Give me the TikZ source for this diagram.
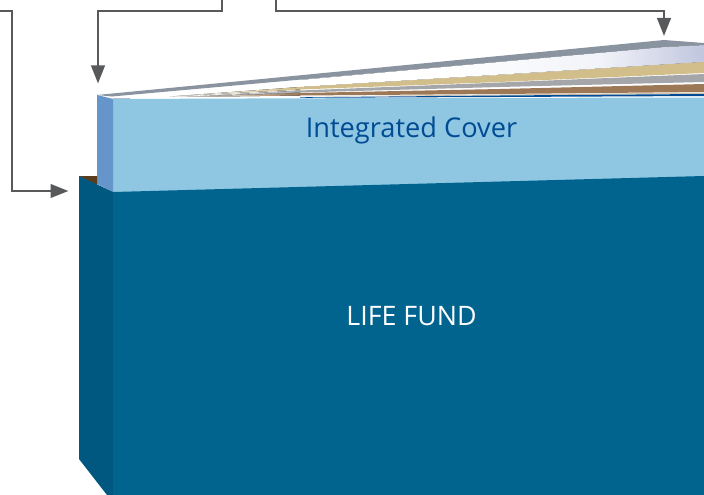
\documentclass[tikz,border=0pt]{standalone}
\usepackage{fontspec}
\setmainfont{Open Sans}
\usetikzlibrary{arrows.meta}
\definecolor{fundfront}{HTML}{00648F}
\definecolor{fundside}{HTML}{00577F}
\definecolor{coverfront}{HTML}{8FC7E3}
\definecolor{coverspine}{HTML}{6695CC}
\definecolor{sliver}{HTML}{5A3D1E}
\definecolor{greyband}{HTML}{8A93A0}
\definecolor{tanband}{HTML}{D2BE8A}
\definecolor{midgrey}{HTML}{A5A6A9}
\definecolor{brownband}{HTML}{9C7857}
\definecolor{beige}{HTML}{D4C5B0}
\definecolor{blueband}{HTML}{004B93}
\definecolor{arrowgrey}{HTML}{58595B}
\pgfdeclarehorizontalshading{pageshade}{100bp}{
  rgb(0bp)=(1,1,1); rgb(42bp)=(1,1,1);
  rgb(62bp)=(.95,.955,.975); rgb(75bp)=(.75,.776,.87); rgb(100bp)=(.75,.776,.87)}
\tikzset{
  connector/.style={draw=arrowgrey,line width=2.7pt,miter limit=10,-{Triangle[length=18pt,width=13.5pt]}},
  panel/.style={draw=none},
  title/.style={font=\fontsize{26.8}{30}\selectfont,anchor=base},
  covertitle/.style={font=\fontsize{27.2}{30}\selectfont,anchor=base}
}
\begin{document}
\begin{tikzpicture}[x=1pt,y=-1pt]
\useasboundingbox (0,0) rectangle (704,495);
% pages
\fill[panel,shading=pageshade] (300,80) -- (664,47) -- (704,45) -- (704,62) -- (300,87) -- cycle;
\fill[panel,left color=white,right color=tanband] (170,96.5) -- (300,87) -- (300,89.5) -- cycle;
\fill[panel,tanband] (300,87) -- (500,75) -- (704,62) -- (704,73) -- (500,82) -- (300,89.5) -- cycle;
\fill[panel,left color=white,right color=midgrey] (200,96) -- (300,90.5) -- (300,92.5) -- cycle;
\fill[panel,midgrey] (300,90.5) -- (500,82.5) -- (704,74) -- (704,82) -- (500,87) -- (300,92.5) -- cycle;
\fill[panel,left color=white,right color=brownband] (180,97) -- (300,93) -- (300,95.5) -- cycle;
\fill[panel,brownband] (300,93) -- (500,89) -- (704,84) -- (704,92) -- (500,94) -- (300,95.5) -- cycle;
\fill[panel,beige] (300,96.5) -- (500,94.5) -- (704,92.5) -- (704,94) -- (500,95.5) -- cycle;
\fill[panel,blueband] (300,97.3) -- (500,95.5) -- (704,94) -- (704,96) -- (500,97) -- (300,97.8) -- cycle;
\fill[panel,greyband] (97,95) -- (664,40) -- (704,43) -- (704,45) -- (664,47) -- (112,96.5) -- cycle;
\fill[panel,greyband!60] (113,97.5) -- (130,97.5) -- (130,99) -- (113,99) -- cycle;
% integrated cover
\fill[panel,coverfront] (113,99) -- (300,98.3) -- (704,97.5) -- (704,177) -- (113,193) -- cycle;
\fill[panel,coverspine] (97,95) -- (113,99) -- (113,192) -- (97,184) -- cycle;
% life fund
\fill[panel,sliver] (79,176) -- (97,176) -- (97,185) -- cycle;
\fill[panel,fundside] (79,176) -- (113,192) -- (113,495) -- (107,495) -- (79,459) -- cycle;
\fill[panel,fundfront] (113,192) -- (704,176) -- (704,495) -- (113,495) -- cycle;
% labels
\node[covertitle,text=blueband] (cover) at (411.5,137) {Integrated Cover};
\node[title,text=white] (fund) at (411.5,325) {LIFE FUND};
% connectors
\coordinate (s1) at (-2,11);
\coordinate (e1) at (68.5,191);
\coordinate (s2) at (222,-2);
\coordinate (e2) at (98,83.5);
\coordinate (s3) at (276,-2);
\coordinate (e3) at (664,36);
\draw[connector] (s1) -- (12,11) -- (12,191) -- (e1);
\draw[connector] (s2) -- (222,11) -- (98,11) -- (e2);
\draw[connector] (s3) -- (276,11) -- (664,11) -- (e3);
\end{tikzpicture}
\end{document}
